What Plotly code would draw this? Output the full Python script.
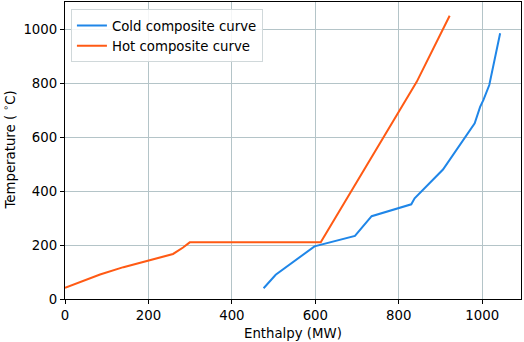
import plotly.graph_objects as go

cold_enthalpy = [476, 505, 598, 695, 735, 830, 838, 906, 982, 995, 1003, 1017, 1043]
cold_temp = [40, 90, 195, 234, 307, 351, 373, 480, 651, 712, 738, 793, 985]

hot_enthalpy = [0, 84, 140, 198, 259, 283, 299, 613, 843, 922]
hot_temp = [41, 91, 118, 143, 167, 191, 210, 210, 805, 1050]

x_ticks = [0, 200, 400, 600, 800, 1000]
y_ticks = [0, 200, 400, 600, 800, 1000]

font = dict(family="DejaVu Sans", size=13.3, color="black")

fig = go.Figure()
fig.add_trace(go.Scatter(x=cold_enthalpy, y=cold_temp, mode="lines",
                         name="Cold composite curve",
                         line=dict(color="#1f86e8", width=2)))
fig.add_trace(go.Scatter(x=hot_enthalpy, y=hot_temp, mode="lines",
                         name="Hot composite curve",
                         line=dict(color="#ff5a14", width=2)))

axis_common = dict(showgrid=True, gridcolor="#b4c4c8", gridwidth=1.2,
                   zeroline=False, showline=True, mirror=True,
                   linecolor="black", linewidth=1.2,
                   ticks="outside", ticklen=4, tickcolor="black",
                   tickfont=font, automargin=False)

fig.update_layout(
    width=524, height=342,
    margin=dict(l=65, r=3, t=2, b=43),
    paper_bgcolor="white", plot_bgcolor="white",
    font=font,
    showlegend=True,
    legend=dict(x=0.013, y=0.975, xanchor="left", yanchor="top",
                bgcolor="rgba(255,255,255,0.85)", bordercolor="#d0d8da",
                borderwidth=1, font=font, tracegroupgap=0),
    xaxis=dict(range=[0, 1093], tickvals=x_ticks, **axis_common),
    yaxis=dict(range=[0, 1101], tickvals=y_ticks, **axis_common),
    annotations=[
        dict(text="Enthalpy (MW)", xref="paper", yref="paper", x=0.5, y=0,
             xanchor="center", yanchor="middle", yshift=-34, showarrow=False,
             font=font),
        dict(text="Temperature ( <sup>∘</sup>C)", xref="paper", yref="paper",
             x=0, y=0.5, xanchor="center", yanchor="middle", xshift=-56,
             textangle=-90, showarrow=False, font=font),
    ],
)

fig.write_html("out.html", config={"displayModeBar": False},
               post_script="document.body.style.margin='0';")
